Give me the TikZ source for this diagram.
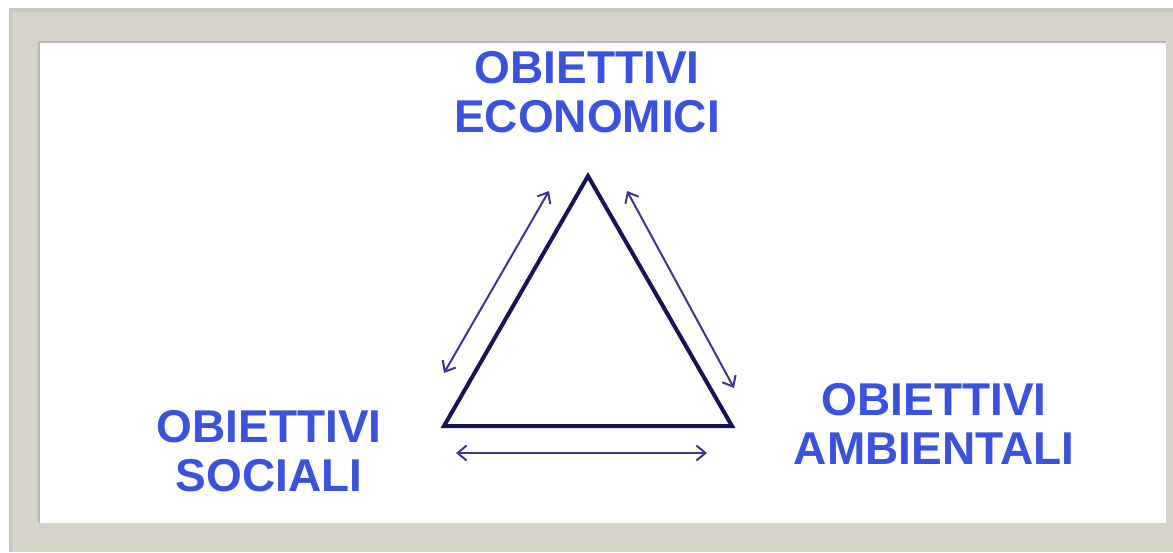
\documentclass[tikz,border=0pt]{standalone}
\usepackage{fontspec}
\setmainfont{Liberation Sans}
\usetikzlibrary{arrows.meta}
\definecolor{framegrey}{RGB}{214,211,203}
\definecolor{framedark}{RGB}{200,198,190}
\definecolor{shadowgrey}{RGB}{185,183,177}
\definecolor{goalblue}{RGB}{58,82,222}
\definecolor{trinavy}{RGB}{22,20,82}
\definecolor{linkblue}{RGB}{58,56,140}
\begin{document}
\begin{tikzpicture}[
        x=1pt,y=-1pt,
        goal/.style={text=goalblue, align=center, anchor=north, inner sep=0pt,
        	font={\fontsize{46}{49}\selectfont\bfseries}},
        side/.style={draw=trinavy, line width=4pt, line join=miter},
        link/.style={draw=linkblue, line width=2pt,
        	{Straight Barb[length=9pt,width=15pt]}-{Straight Barb[length=9pt,width=15pt]}}
    ]
    \useasboundingbox (0,0) rectangle (1173,552);

    %Frame
    \fill[framegrey] (9,8) rectangle (1173,552);
    \fill[framedark] (9,8) rectangle (1173,12);
    \fill[framedark] (9,8) rectangle (12,552);
    \fill[shadowgrey] (38,41) rectangle (1166,523);
    \fill[white] (40,43) rectangle (1166,523);

    %Triangle corners
    \coordinate (top) at (588,176);
    \coordinate (left) at (444,426);
    \coordinate (right) at (732,426);
    \draw[side] (top) -- (right) -- (left) -- cycle;

    %Arrows along the sides
    \coordinate (ls) at (444,373);
    \coordinate (le) at (549,191);
    \coordinate (rs) at (627,191);
    \coordinate (re) at (734,388);
    \coordinate (bs) at (456,453);
    \coordinate (be) at (707,453);
    \draw[link] (ls) -- (le);
    \draw[link] (rs) -- (re);
    \draw[link] (bs) -- (be);

    %Labels
    \node[goal] (economici) at (587,51) {OBIETTIVI\\ECONOMICI};
    \node[goal] (sociali) at (269,410) {OBIETTIVI\\SOCIALI};
    \node[goal] (ambientali) at (934,383) {OBIETTIVI\\AMBIENTALI};
\end{tikzpicture}
\end{document}
